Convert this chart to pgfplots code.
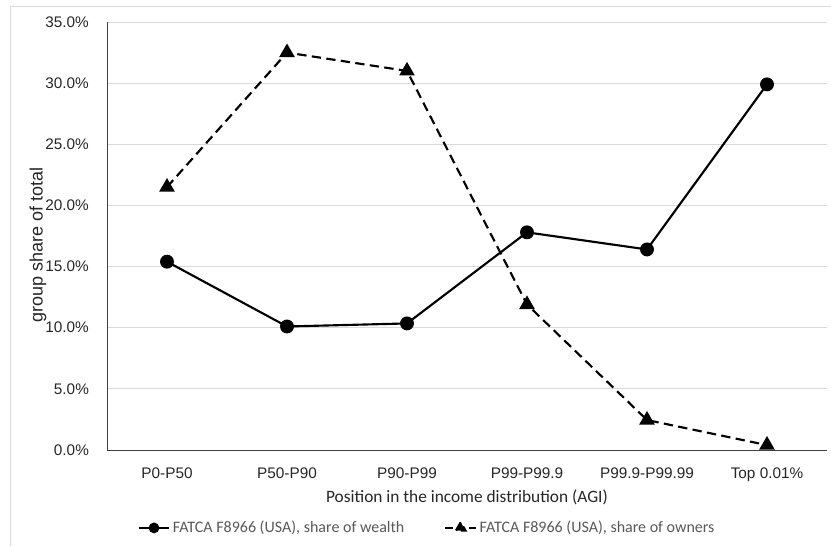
\documentclass[border=0pt]{standalone}
\usepackage{fontspec}
\setmainfont{Liberation Sans}
\newfontfamily\carlito{Carlito}
\usepackage{pgfplots}
\pgfplotsset{compat=1.18}
\begin{document}
\begin{tikzpicture}
\path[use as bounding box] (0,0) rectangle (623.25pt,409.5pt);
\draw[black!15, line width=0.75pt] (7.5pt,0) -- (7.5pt,404.25pt) -- (623.25pt,404.25pt);
\begin{axis}[
  at={(80.25pt,72pt)}, anchor=south west, scale only axis,
  width=540pt, height=321pt,
  xmin=-0.5, xmax=5.5, ymin=0, ymax=35,
  xtick={0,1,2,3,4,5},
  xticklabels={P0-P50,P50-P90,P90-P99,P99-P99.9,P99.9-P99.99,Top 0.01\%},
  ytick={0,5,10,15,20,25,30,35},
  ymajorgrids,
  grid style={draw=black!15, line width=0.75pt},
  axis x line=bottom, axis y line=left,
  axis line style={-, black!75, line width=0.75pt},
  tick style={draw=none},
  tick label style={font=\fontsize{11.5}{13}\selectfont, text=black!85},
  /pgf/number format/assume math mode=true,
  yticklabel={\pgfmathprintnumber[fixed,fixed zerofill,precision=1]{\tick}\%},
  yticklabel style={anchor=east, inner sep=0pt, xshift=-11.25pt},
  xticklabel style={anchor=base, inner sep=0pt, yshift=-19pt},
  xlabel={Position in the income distribution (AGI)},
  xlabel style={at={(axis description cs:0.5,-0.1098)}, anchor=center, font=\carlito\fontsize{13}{15}\selectfont, text=black!85},
  ylabel={group share of total},
  ylabel style={at={(axis description cs:-0.0958,0.479)}, anchor=center, font=\fontsize{13.5}{15}\selectfont, text=black!85},
  legend columns=2,
  legend style={at={(axis description cs:0.445,-0.182)}, anchor=center, draw=none, fill=none,
    font=\carlito\fontsize{12}{14}\selectfont, text=black!65,
    /tikz/every even column/.append style={column sep=28pt}},
  legend cell align=left,
]
\addplot[black, line width=1.6pt, mark=*, mark size=4.4pt,
  legend image code/.code={\draw[black, line width=1.5pt] (0pt,0pt) -- (23pt,0pt);
    \fill[black] (11.5pt,0pt) circle (3.2pt);}]
  coordinates {(0,15.4) (1,10.1) (2,10.35) (3,17.8) (4,16.4) (5,29.9)};
\addlegendentry{FATCA F8966 (USA), share of wealth}
\addplot[black, line width=1.6pt, dash pattern=on 7pt off 4pt, mark=triangle*, mark size=5.2pt,
  mark options={solid},
  legend image code/.code={\draw[black, line width=1.5pt, dash pattern=on 6pt off 3pt] (0pt,0pt) -- (23pt,0pt);
    \fill[black] (11.5pt,0pt) ++(90:4.2pt) -- ++(-120:7.2pt) -- ++(0:7.2pt) -- cycle;}]
  coordinates {(0,21.5) (1,32.5) (2,31.0) (3,11.9) (4,2.45) (5,0.4)};
\addlegendentry{FATCA F8966 (USA), share of owners}
\end{axis}
\end{tikzpicture}
\end{document}
